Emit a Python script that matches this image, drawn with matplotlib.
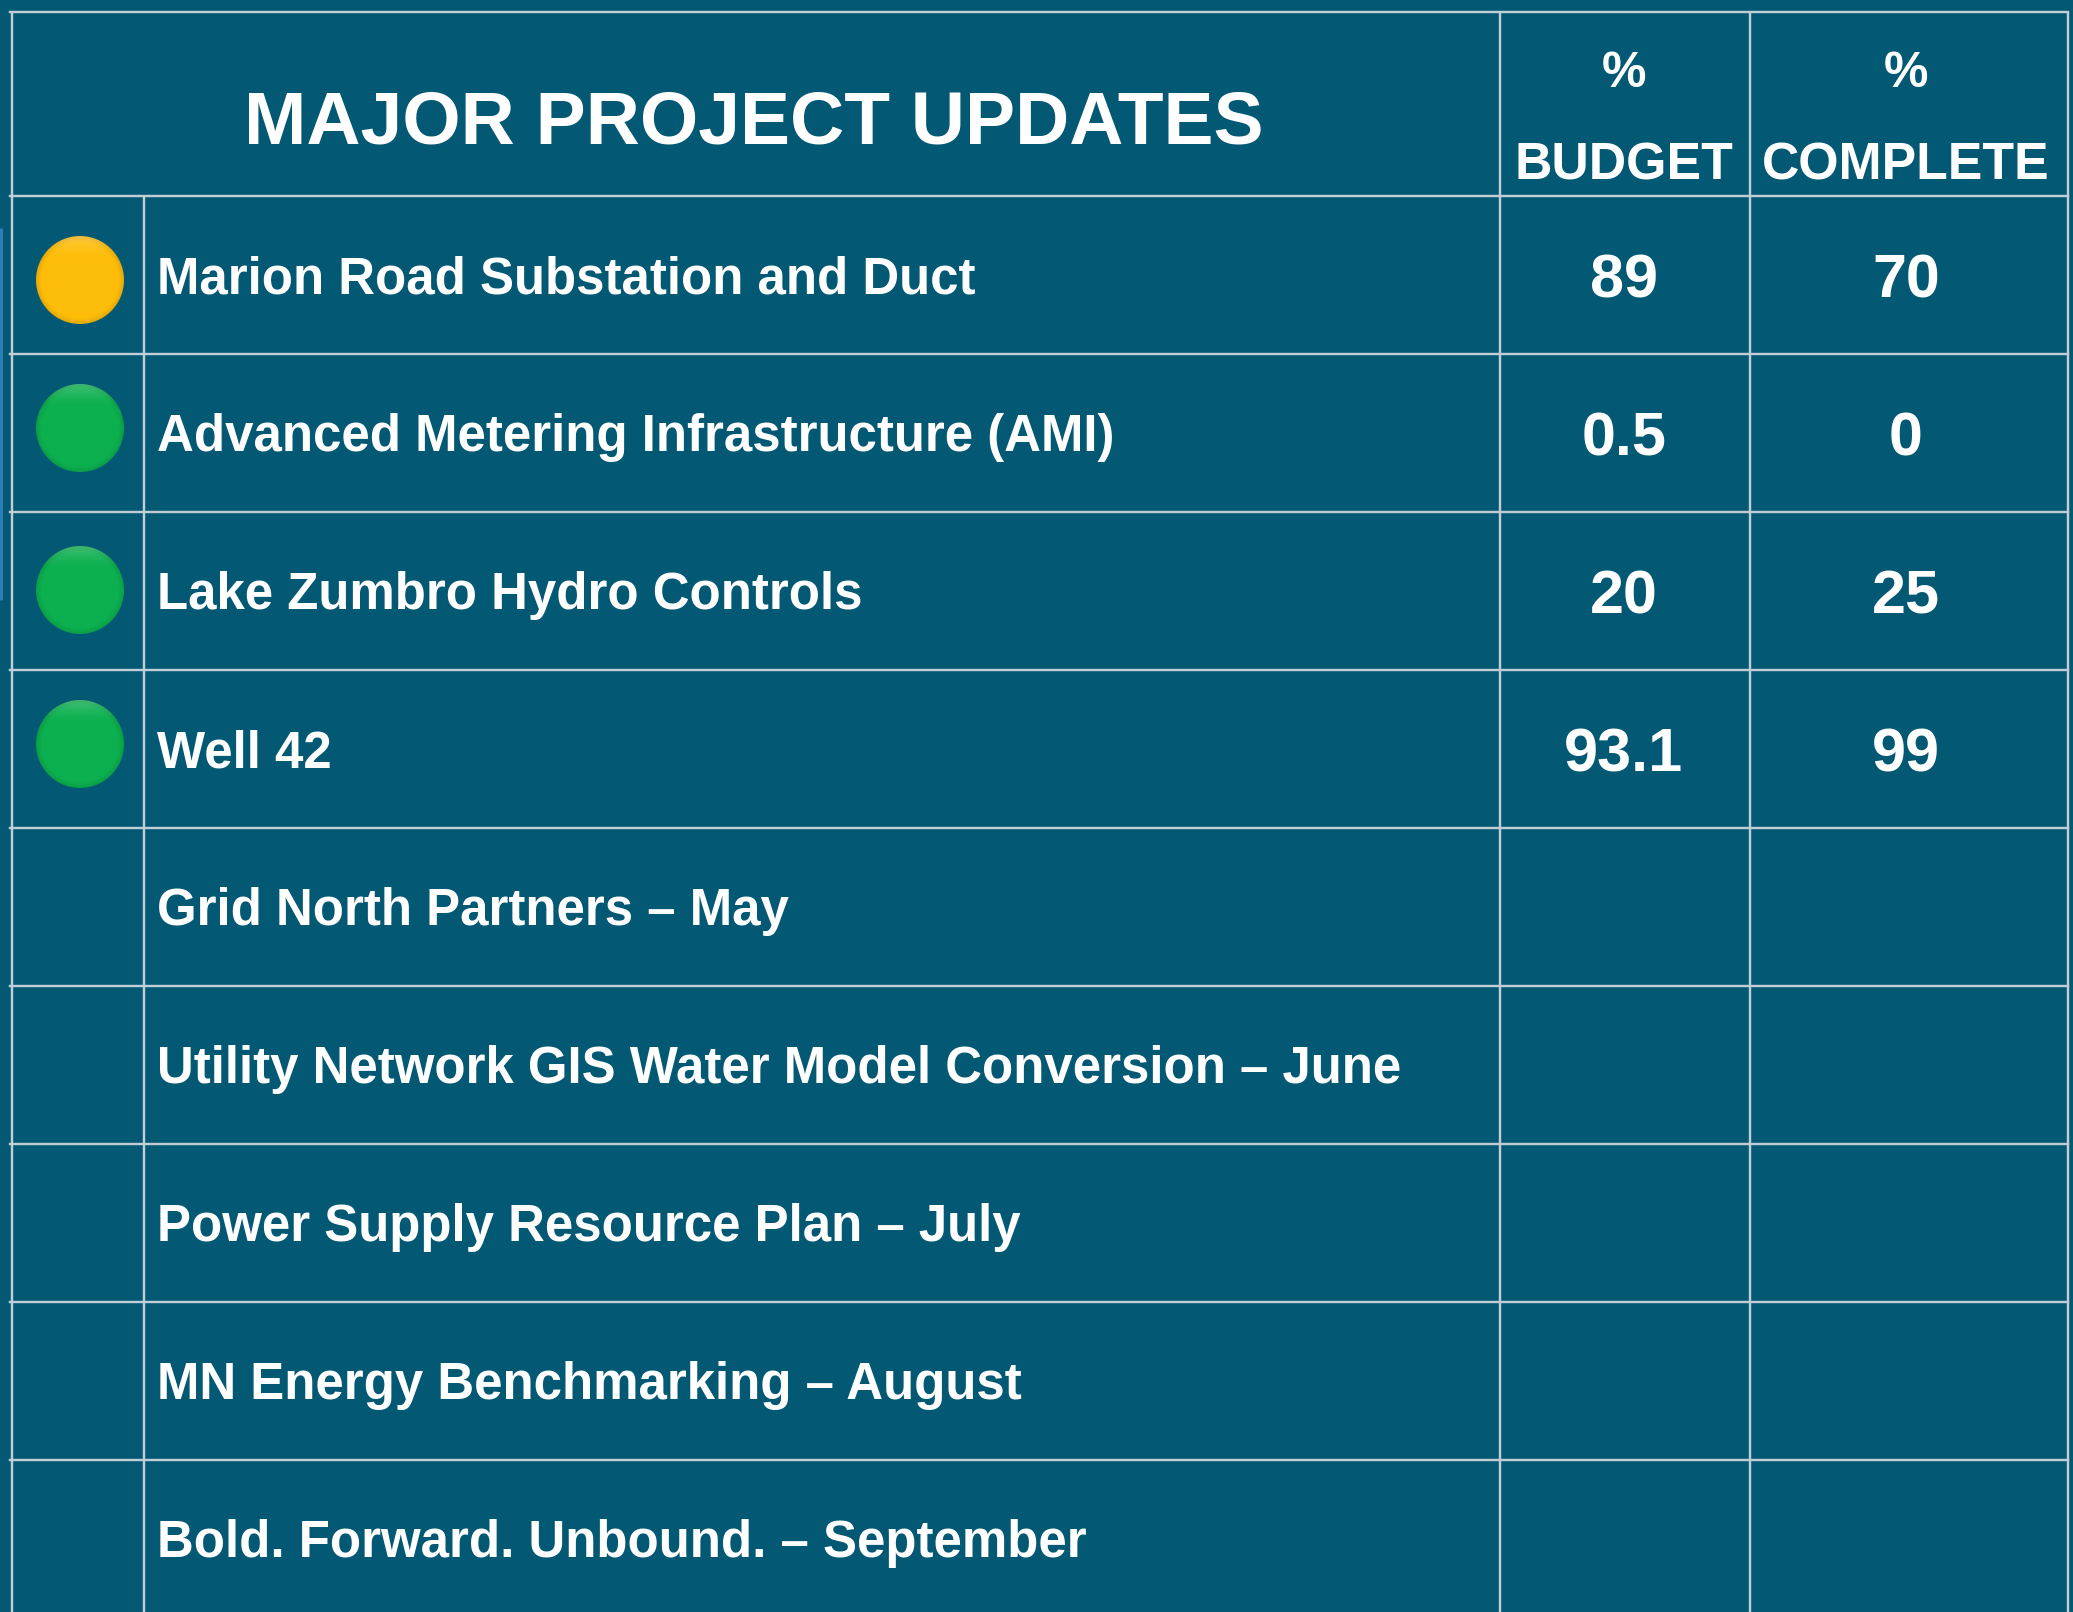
import numpy as np
import matplotlib
matplotlib.use("Agg")
import matplotlib.pyplot as plt
from matplotlib.patches import Circle
from matplotlib.colors import to_rgb

title = "MAJOR PROJECT UPDATES"
col_headers = ["BUDGET", "COMPLETE"]
projects = ["Marion Road Substation and Duct", "Advanced Metering Infrastructure (AMI)",
            "Lake Zumbro Hydro Controls", "Well 42", "Grid North Partners \u2013 May",
            "Utility Network GIS Water Model Conversion \u2013 June",
            "Power Supply Resource Plan \u2013 July", "MN Energy Benchmarking \u2013 August",
            "Bold. Forward. Unbound. \u2013 September"]
budget = ["89", "0.5", "20", "93.1", "", "", "", "", ""]
complete = ["70", "0", "25", "99", "", "", "", "", ""]
status = ["#FDBD08", "#0CB04F", "#0CB04F", "#0CB04F", None, None, None, None, None]

BG = "#035873"
LINE = "#C3CDD5"
W, H = 2073, 1612
row_lines = [196, 354, 512, 670, 828, 986, 1144, 1302, 1460]
label_base = [293, 451, 609, 767, 925, 1083, 1241, 1399, 1557]
num_base = [298, 456, 614, 772]
dot_y = [280, 428, 590, 744]
X_L, X_DOT, X_B, X_C, X_R, Y_T = 12, 144, 1500, 1750, 2068, 12
LW = 2.4 * 0.72

plt.rcParams["font.family"] = ["Liberation Sans", "DejaVu Sans"]
fig = plt.figure(figsize=(W / 100, H / 100), dpi=100, facecolor=BG)
ax = fig.add_axes([0, 0, 1, 1])
ax.set_xlim(0, W)
ax.set_ylim(H, 0)
ax.axis("off")

# table rules
ax.plot([X_L - 2, X_R], [Y_T, Y_T], color=LINE, lw=LW)
for y in row_lines:
    ax.plot([X_L - 2, X_R], [y, y], color=LINE, lw=LW)
for x, top in [(X_L, Y_T), (X_DOT, row_lines[0]), (X_B, Y_T), (X_C, Y_T), (X_R, Y_T)]:
    ax.plot([x, x], [top, H], color=LINE, lw=LW, solid_capstyle="butt")
ax.plot([1, 1], [228, 600], color="#2A7FB5", lw=2.2, solid_capstyle="butt")

# header
ax.text(754, 143, title, color="white", fontsize=54, fontweight="bold", ha="center", va="baseline")
for cx, head in zip([1624, 1906], col_headers):
    ax.text(cx, 87, "%", color="white", fontsize=36, fontweight="bold", ha="center", va="baseline")
    ax.text(cx, 179, head, color="white", fontsize=37.3, fontweight="bold", ha="center", va="baseline")

# rows
for name, y in zip(projects, label_base):
    ax.text(157, y, name, color="white", fontsize=36.75, fontweight="bold", ha="left", va="baseline")
for b, c, y in zip(budget, complete, num_base):
    ax.text(1624, y, b, color="white", fontsize=44, fontweight="bold", ha="center", va="baseline")
    ax.text(1906, y, c, color="white", fontsize=44, fontweight="bold", ha="center", va="baseline")

# status lamps
R = 44
yy, xx = np.mgrid[-1:1:120j, -1:1:120j]
for col, y in zip(status, dot_y):
    if col is None:
        continue
    rgb = np.array(to_rgb(col))
    rr = np.hypot(xx, yy)
    edge = np.clip((rr - 0.88) / 0.12, 0, 1)
    top = np.clip((-yy - 0.5) / 0.5, 0, 1) ** 1.5
    shade = rgb[None, None, :] * (1 - 0.1 * edge[..., None])
    img = shade + (1 - shade) * (0.22 * top)[..., None]
    im = ax.imshow(img, extent=[80 - R, 80 + R, y + R, y - R], zorder=3, aspect="auto")
    im.set_clip_path(Circle((80, y), R, transform=ax.transData))
ax.set_xlim(0, W)
ax.set_ylim(H, 0)
fig.savefig("out.png", dpi=100, facecolor=BG)
